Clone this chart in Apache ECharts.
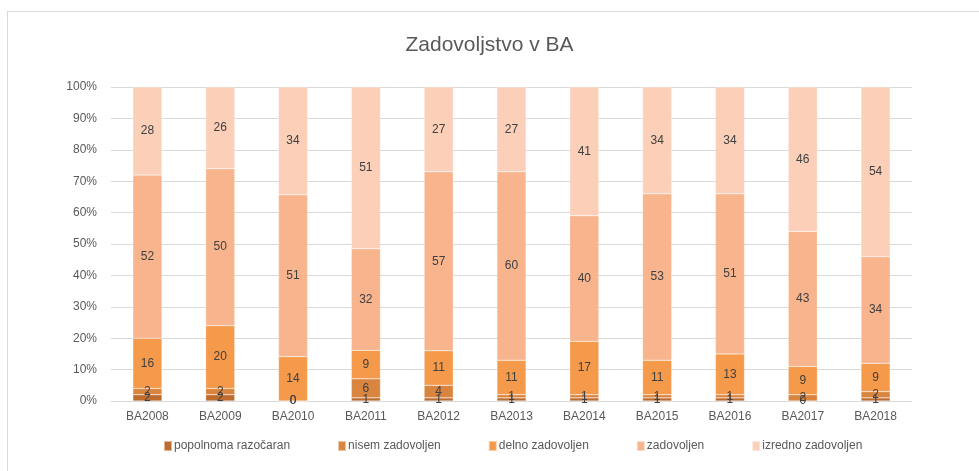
<!DOCTYPE html>
<html>
<head>
<meta charset="utf-8">
<script src="https://cdn.jsdelivr.net/npm/echarts@6/dist/echarts.min.js"></script>
<style>
  html, body { margin: 0; padding: 0; background: #fff; }
  #chart { width: 979px; height: 471px; }
</style>
</head>
<body>
<div id="chart"></div>
<script>
// Survey years
const categories = ['BA2008', 'BA2009', 'BA2010', 'BA2011', 'BA2012', 'BA2013', 'BA2014', 'BA2015', 'BA2016', 'BA2017', 'BA2018'];

// Answers per year, one array per satisfaction level
const popolnomaRazocaran = [2, 2, 0, 1, 1, 1, 1, 1, 1, 0, 1];
const nisemZadovoljen    = [2, 2, 0, 6, 4, 1, 1, 1, 1, 2, 2];
const delnoZadovoljen    = [16, 20, 14, 9, 11, 11, 17, 11, 13, 9, 9];
const zadovoljen         = [52, 50, 51, 32, 57, 60, 40, 53, 51, 43, 34];
const izrednoZadovoljen  = [28, 26, 34, 51, 27, 27, 41, 34, 34, 46, 54];

const seriesNames = ['popolnoma razočaran', 'nisem zadovoljen', 'delno zadovoljen', 'zadovoljen', 'izredno zadovoljen'];
const seriesValues = [popolnomaRazocaran, nisemZadovoljen, delnoZadovoljen, zadovoljen, izrednoZadovoljen];
const colors = ['#BD6C30', '#DA853F', '#F5994B', '#F8B48D', '#FBCFB8'];

const yTicks = ['0%', '10%', '20%', '30%', '40%', '50%', '60%', '70%', '80%', '90%', '100%'];

// Per-year totals for the 100 % stack
const totals = categories.map((_, i) => seriesValues.reduce((s, arr) => s + arr[i], 0));

const font = '"Liberation Sans", Arial, sans-serif';

const series = seriesNames.map((name, k) => ({
  name,
  type: 'bar',
  stack: 'all',
  barWidth: '40%',
  itemStyle: { color: colors[k], borderColor: 'rgba(255,255,255,0.5)', borderWidth: 0.5 },
  label: {
    show: true,
    position: 'inside',
    color: '#404040',
    fontSize: 12,
    fontFamily: font,
    formatter: p => String(seriesValues[k][p.dataIndex])
  },
  data: seriesValues[k].map((v, i) => ({ value: v / totals[i] * 100 }))
}));

const chart = echarts.init(document.getElementById('chart'), null, { renderer: 'canvas' });
chart.setOption({
  backgroundColor: '#fff',
  animation: false,
  color: colors,
  title: {
    text: 'Zadovoljstvo v BA',
    left: 'center',
    top: 30,
    textStyle: { color: '#595959', fontSize: 21, fontWeight: 'normal', fontFamily: font }
  },
  graphic: [
    { type: 'line', shape: { x1: 7, y1: 11.5, x2: 979, y2: 11.5 }, style: { stroke: '#d9d9d9', lineWidth: 1 } },
    { type: 'line', shape: { x1: 7.5, y1: 11, x2: 7.5, y2: 471 }, style: { stroke: '#d9d9d9', lineWidth: 1 } }
  ],
  legend: {
    bottom: 14,
    left: 158,
    itemWidth: 8,
    itemHeight: 10,
    itemGap: 47,
    icon: 'rect',
    textStyle: { color: '#595959', fontSize: 12, fontFamily: font, padding: [0, 0, 0, -3] },
    data: seriesNames
  },
  grid: { left: 111, right: 67, top: 87, bottom: 70 },
  xAxis: {
    type: 'category',
    data: categories,
    axisLine: { lineStyle: { color: '#d9d9d9', width: 1 } },
    axisTick: { show: false },
    axisLabel: { color: '#595959', fontSize: 12, fontFamily: font, margin: 10 }
  },
  yAxis: {
    type: 'value',
    min: 0,
    max: 100,
    interval: 10,
    axisLine: { show: false },
    axisTick: { show: false },
    splitLine: { lineStyle: { color: '#d9d9d9', width: 1 } },
    axisLabel: {
      color: '#595959',
      fontSize: 12,
      fontFamily: font,
      margin: 14,
      formatter: v => yTicks[Math.round(v / 10)]
    }
  },
  series
});
</script>
</body>
</html>
